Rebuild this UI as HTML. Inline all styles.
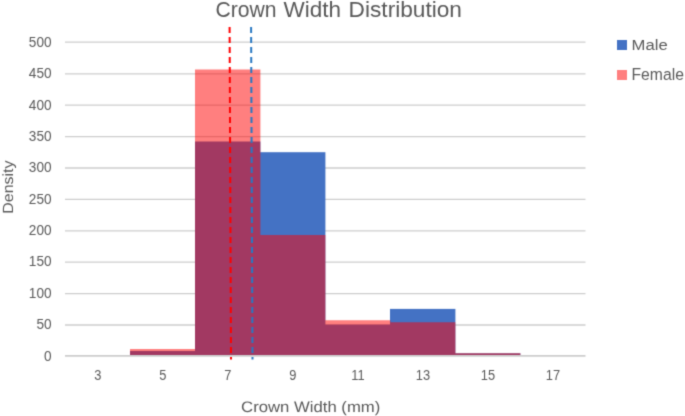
<!DOCTYPE html>
<html><head><meta charset="utf-8"><style>
html,body{margin:0;padding:0;background:#fff;}
body{width:685px;height:416px;overflow:hidden;}
svg{display:block;}
#c{width:685px;height:416px;will-change:transform;}
text{font-family:"Liberation Sans",sans-serif;fill:#595959;}
</style></head><body>
<div id="c"><svg width="685" height="416" viewBox="0 0 685 416">
<defs><filter id="bl" x="0" y="0" width="685" height="416" filterUnits="userSpaceOnUse" color-interpolation-filters="sRGB"><feConvolveMatrix order="3" kernelMatrix="0.02250 0.10500 0.02250 0.10500 0.49000 0.10500 0.02250 0.10500 0.02250" edgeMode="duplicate"/></filter></defs><g filter="url(#bl)">
<rect x="0" y="0" width="685" height="416" fill="#fff"/>
<g stroke="#cdcdcd" fill="none">
<line x1="65.0" x2="585.5" y1="42.20" y2="42.20" stroke-width="1.3"/>
<line x1="65.0" x2="585.5" y1="73.85" y2="73.85" stroke-width="1.3"/>
<line x1="65.0" x2="585.5" y1="105.20" y2="105.20" stroke-width="1.3"/>
<line x1="65.0" x2="585.5" y1="136.60" y2="136.60" stroke-width="1.3"/>
<line x1="65.0" x2="585.5" y1="168.00" y2="168.00" stroke-width="1.3"/>
<line x1="65.0" x2="585.5" y1="199.45" y2="199.45" stroke-width="1.3"/>
<line x1="65.0" x2="585.5" y1="230.90" y2="230.90" stroke-width="1.3"/>
<line x1="65.0" x2="585.5" y1="262.10" y2="262.10" stroke-width="1.3"/>
<line x1="65.0" x2="585.5" y1="293.70" y2="293.70" stroke-width="1.3"/>
<line x1="65.0" x2="585.5" y1="325.00" y2="325.00" stroke-width="1.3"/>
<line x1="65.0" x2="585.5" y1="355.85" y2="355.85" stroke-width="1.8"/>
</g>
<g fill="#4472c4">
<rect x="130" y="351.0" width="65.4" height="4.00"/>
<rect x="195" y="141.5" width="65.4" height="213.50"/>
<rect x="260" y="152.2" width="65.4" height="202.80"/>
<rect x="325" y="324.6" width="65.4" height="30.40"/>
<rect x="390" y="308.9" width="65.4" height="46.10"/>
<rect x="455" y="353.3" width="65.4" height="1.70"/>
</g>
<path d="M130,355.0 L130,348.9 L195.00,348.9 L195.00,69.6 L260.40,69.6 L260.40,235.0 L325.40,235.0 L325.40,320.35 L390.40,320.35 L390.40,322.2 L455.40,322.2 L455.40,353.3 L520.40,353.3 L520.40,355.0 Z" fill="#ff0000" fill-opacity="0.5"/>
<line x1="229.6" y1="26.9" x2="231" y2="359.6" stroke="#ff0000" stroke-width="2.0" stroke-dasharray="6 4" stroke-dashoffset="0"/>
<line x1="251.1" y1="26.9" x2="252.5" y2="359.6" stroke="#2878c2" stroke-width="2.0" stroke-dasharray="6 4" stroke-dashoffset="0"/>
<text transform="translate(51.60,46.50) scale(0.9740,1.0370)" font-size="14" text-anchor="end">500</text>
<text transform="translate(51.60,78.15) scale(0.9740,1.0370)" font-size="14" text-anchor="end">450</text>
<text transform="translate(51.60,109.50) scale(0.9740,1.0370)" font-size="14" text-anchor="end">400</text>
<text transform="translate(51.60,140.90) scale(0.9740,1.0370)" font-size="14" text-anchor="end">350</text>
<text transform="translate(51.60,172.30) scale(0.9740,1.0370)" font-size="14" text-anchor="end">300</text>
<text transform="translate(51.60,203.75) scale(0.9740,1.0370)" font-size="14" text-anchor="end">250</text>
<text transform="translate(51.60,235.20) scale(0.9740,1.0370)" font-size="14" text-anchor="end">200</text>
<text transform="translate(51.60,266.40) scale(0.9740,1.0370)" font-size="14" text-anchor="end">150</text>
<text transform="translate(51.60,298.00) scale(0.9740,1.0370)" font-size="14" text-anchor="end">100</text>
<text transform="translate(51.60,329.30) scale(0.9740,1.0370)" font-size="14" text-anchor="end">50</text>
<text transform="translate(51.60,360.65) scale(0.9740,1.0370)" font-size="14" text-anchor="end">0</text>
<text transform="translate(97.75,380.00) scale(0.9200,1.0370)" font-size="14" text-anchor="middle">3</text>
<text transform="translate(162.79,380.00) scale(0.9200,1.0370)" font-size="14" text-anchor="middle">5</text>
<text transform="translate(227.83,380.00) scale(0.9200,1.0370)" font-size="14" text-anchor="middle">7</text>
<text transform="translate(292.87,380.00) scale(0.9200,1.0370)" font-size="14" text-anchor="middle">9</text>
<text transform="translate(357.91,380.00) scale(0.9200,1.0370)" font-size="14" text-anchor="middle">11</text>
<text transform="translate(422.95,380.00) scale(0.9200,1.0370)" font-size="14" text-anchor="middle">13</text>
<text transform="translate(487.99,380.00) scale(0.9200,1.0370)" font-size="14" text-anchor="middle">15</text>
<text transform="translate(553.03,380.00) scale(0.9200,1.0370)" font-size="14" text-anchor="middle">17</text>
<text transform="translate(215.40,17.30) scale(1.0310,1.1100)" font-size="20.5">Crown</text>
<text transform="translate(283.40,17.30) scale(1.0980,1.1100)" font-size="20.5">Width</text>
<text transform="translate(348.60,17.30) scale(1.1060,1.1100)" font-size="20.5">Distribution</text>
<text transform="translate(241.10,412.40) scale(1.1000,1.0000)" font-size="15.2" text-rendering="geometricPrecision">Crown Width (mm)</text>
<text transform="translate(13.20,213.80) rotate(-90) scale(1.0000,0.9200)" font-size="16.0" text-rendering="geometricPrecision">Density</text>
<rect x="617" y="40" width="10" height="10" fill="#4472c4"/>
<rect x="617" y="70" width="10" height="10" fill="#ff7f7f"/>
<text transform="translate(631.60,50.40) scale(1.1480,1.0600)" font-size="14.5">Male</text>
<text transform="translate(631.50,79.80) scale(1.0860,1.1000)" font-size="14.5">Female</text>
</g>
</svg></div>
</body></html>
